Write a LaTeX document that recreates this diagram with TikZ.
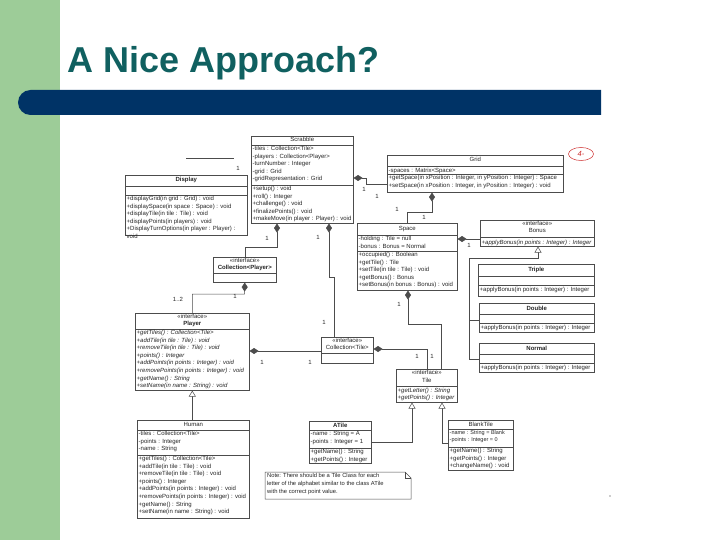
\documentclass[tikz,border=0pt]{standalone}
\usepackage{fontspec}
\setmainfont{Liberation Sans}
\usepackage{xcolor}
\usetikzlibrary{arrows.meta,positioning}
\definecolor{SlideGreen}{RGB}{157,204,152}
\definecolor{TitleTeal}{RGB}{16,96,96}
\definecolor{BarBlue}{RGB}{0,51,102}
\definecolor{InkRed}{RGB}{205,45,45}

\tikzset{
	cls/.style={draw=black!70, line width=0.6pt, fill=white, inner sep=0pt, anchor=north west},
	sep/.style={draw=black!70, line width=0.5pt},
	ttl/.style={anchor=north, inner sep=0pt, align=center, text=black!85,
		font=\fontsize{6}{7.6}\selectfont, execute at begin node=\strut},
	mem/.style={anchor=north west, inner sep=0pt, align=left, text=black!85,
		font=\fontsize{6}{7.6}\selectfont, execute at begin node=\strut},
	mult/.style={inner sep=0pt, text=black!85, font=\fontsize{6}{6}\selectfont},
	link/.style={draw=black!70, line width=0.5pt},
	comp/.style={link, {Diamond[length=9pt, width=6pt]}-},
	gen/.style={link, {Triangle[open, length=6pt, width=7pt, fill=white]}-}
}

\begin{document}
\begin{tikzpicture}[x=1pt, y=-1pt]
	\useasboundingbox (0,0) rectangle (720,540);
	% slide frame
	\fill[SlideGreen] (0,0) rectangle (60,540);
	\fill[BarBlue, rounded corners=12.5pt] (601,90) -- (18,90) -- (18,115) -- (601,115);
	\node[anchor=base west, inner sep=0pt, text=TitleTeal,
		font=\fontsize{36}{40}\selectfont\bfseries] (title) at (67,73) {A Nice Approach?};

	% classes
	\node[cls, minimum width=102pt, minimum height=87pt] (scrabble) at (251,136) {};
	\draw[sep] (scrabble.west |- 0,145) -- (scrabble.east |- 0,145);
	\draw[sep] (scrabble.west |- 0,185) -- (scrabble.east |- 0,185);
	\node[ttl] at (scrabble.north) {Scrabble};
	\node[mem] at (252.5,146) {-tiles : Collection<Tile>\\-players : Collection<Player>\\-turnNumber : Integer\\-grid : Grid\\-gridRepresentation : Grid};
	\node[mem] at (252.5,186) {+setup() : void\\+roll() : Integer\\+challenge() : void\\+finalizePoints() : void\\+makeMove(in player : Player) : void};

	\node[cls, minimum width=122pt, minimum height=60pt] (display) at (125,175) {};
	\draw[sep] (display.west |- 0,186) -- (display.east |- 0,186);
	\draw[sep] (display.west |- 0,195) -- (display.east |- 0,195);
	\node[ttl, font=\fontsize{6}{7.6}\selectfont\bfseries] at ([yshift=-1pt]display.north) {Display};
	\node[mem] at (126.5,196) {+displayGrid(in grid : Grid) : void\\+displaySpace(in space : Space) : void\\+displayTile(in tile : Tile) : void\\+displayPoints(in players) : void\\+DisplayTurnOptions(in player : Player) :\\void};

	\node[cls, minimum width=176pt, minimum height=37pt] (grid) at (387,155) {};
	\draw[sep] (grid.west |- 0,166) -- (grid.east |- 0,166);
	\draw[sep] (grid.west |- 0,174.5) -- (grid.east |- 0,174.5);
	\node[ttl] at ([yshift=-1pt]grid.north) {Grid};
	\node[mem] at (388.5,167) {-spaces : Matrix<Space>};
	\node[mem] at (388.5,175) {+getSpace(in xPosition : Integer, in yPosition : Integer) : Space\\+setSpace(in xPosition : Integer, in yPosition : Integer) : void};

	\node[cls, minimum width=100pt, minimum height=67pt] (space) at (357,223) {};
	\draw[sep] (space.west |- 0,235) -- (space.east |- 0,235);
	\draw[sep] (space.west |- 0,251) -- (space.east |- 0,251);
	\node[ttl] at ([yshift=-2pt]space.north) {Space};
	\node[mem] at (358.5,236) {-holding : Tile = null\\-bonus : Bonus = Normal};
	\node[mem] at (358.5,252) {+occupied() : Boolean\\+getTile() : Tile\\+setTile(in tile : Tile) : void\\+getBonus() : Bonus\\+setBonus(in bonus : Bonus) : void};

	\node[cls, minimum width=114pt, minimum height=26pt] (bonus) at (480,220) {};
	\draw[sep] (bonus.west |- 0,237.5) -- (bonus.east |- 0,237.5);
	\node[ttl] at ([yshift=-0.5pt]bonus.north) {«interface»\\Bonus};
	\node[mem, font=\fontsize{6}{7.6}\selectfont\itshape] at (481.5,238.5) {+applyBonus(in points : Integer) : Integer};

	\node[cls, minimum width=116pt, minimum height=32pt] (triple) at (478,264) {};
	\draw[sep] (triple.west |- 0,276) -- (triple.east |- 0,276);
	\draw[sep] (triple.west |- 0,285) -- (triple.east |- 0,285);
	\node[ttl, font=\fontsize{6}{7.6}\selectfont\bfseries] at ([yshift=-2pt]triple.north) {Triple};
	\node[mem] at (479.5,286) {+applyBonus(in points : Integer) : Integer};

	\node[cls, minimum width=115pt, minimum height=29pt] (double) at (479,303) {};
	\draw[sep] (double.west |- 0,314) -- (double.east |- 0,314);
	\draw[sep] (double.west |- 0,323) -- (double.east |- 0,323);
	\node[ttl, font=\fontsize{6}{7.6}\selectfont\bfseries] at ([yshift=-2pt]double.north) {Double};
	\node[mem] at (480.5,324) {+applyBonus(in points : Integer) : Integer};

	\node[cls, minimum width=115pt, minimum height=29pt] (normal) at (479,343) {};
	\draw[sep] (normal.west |- 0,354) -- (normal.east |- 0,354);
	\draw[sep] (normal.west |- 0,363) -- (normal.east |- 0,363);
	\node[ttl, font=\fontsize{6}{7.6}\selectfont\bfseries] at ([yshift=-2pt]normal.north) {Normal};
	\node[mem] at (480.5,364) {+applyBonus(in points : Integer) : Integer};

	\node[cls, minimum width=63pt, minimum height=25pt] (colP) at (213,257) {};
	\draw[sep] (colP.west |- 0,273) -- (colP.east |- 0,273);
	\node[ttl, font=\fontsize{6}{7.6}\selectfont\bfseries] at ([yshift=-0.5pt]colP.north) {\mdseries«interface»\\Collection<Player>};

	\node[cls, minimum width=114pt, minimum height=77pt] (player) at (135,313) {};
	\draw[sep] (player.west |- 0,329) -- (player.east |- 0,329);
	\node[ttl, font=\fontsize{6}{7.6}\selectfont\bfseries] at ([yshift=-0.5pt]player.north) {\mdseries«interface»\\Player};
	\node[mem, font=\fontsize{6}{7.6}\selectfont\itshape] at (136.5,330) {+getTiles() : Collection<Tile>\\+addTile(in tile : Tile) : void\\+removeTile(in tile : Tile) : void\\+points() : Integer\\+addPoints(in points : Integer) : void\\+removePoints(in points : Integer) : void\\+getName() : String\\+setName(in name : String) : void};

	\node[cls, minimum width=52pt, minimum height=26pt] (colT) at (321,337) {};
	\draw[sep] (colT.west |- 0,353) -- (colT.east |- 0,353);
	\node[ttl] at ([yshift=-0.5pt]colT.north) {«interface»\\Collection<Tile>};

	\node[cls, minimum width=61pt, minimum height=33pt] (tile) at (396,369) {};
	\draw[sep] (tile.west |- 0,386.5) -- (tile.east |- 0,386.5);
	\node[ttl] at ([yshift=-1pt]tile.north) {«interface»\\Tile};
	\node[mem, font=\fontsize{6}{7.6}\selectfont\itshape] at (397.5,387.5) {+getLetter() : String\\+getPoints() : Integer};

	\node[cls, minimum width=62pt, minimum height=42pt] (atile) at (309,421) {};
	\draw[sep] (atile.west |- 0,430) -- (atile.east |- 0,430);
	\draw[sep] (atile.west |- 0,448) -- (atile.east |- 0,448);
	\node[ttl, font=\fontsize{6}{7.6}\selectfont\bfseries] at ([yshift=-0.5pt]atile.north) {ATile};
	\node[mem] at (310.5,431) {-name : String = A\\-points : Integer = 1};
	\node[mem] at (310.5,449) {+getName() : String\\+getPoints() : Integer};

	\node[cls, minimum width=65pt, minimum height=50pt] (blank) at (448,420) {};
	\draw[sep] (blank.west |- 0,429) -- (blank.east |- 0,429);
	\draw[sep] (blank.west |- 0,447) -- (blank.east |- 0,447);
	\node[ttl] at ([yshift=-0.5pt]blank.north) {BlankTile};
	\node[mem, font=\fontsize{5.5}{7.6}\selectfont] at (449.5,430) {-name : String = Blank\\-points : Integer = 0};
	\node[mem] at (449.5,448) {+getName() : String\\+getPoints() : Integer\\+changeName() : void};

	\node[cls, minimum width=112pt, minimum height=98pt] (human) at (137,420) {};
	\draw[sep] (human.west |- 0,430) -- (human.east |- 0,430);
	\draw[sep] (human.west |- 0,455) -- (human.east |- 0,455);
	\node[ttl] at ([yshift=-0.5pt]human.north) {Human};
	\node[mem] at (138.5,431) {-tiles : Collection<Tile>\\-points : Integer\\-name : String};
	\node[mem] at (138.5,456) {+getTiles() : Collection<Tile>\\+addTile(in tile : Tile) : void\\+removeTile(in tile : Tile) : void\\+points() : Integer\\+addPoints(in points : Integer) : void\\+removePoints(in points : Integer) : void\\+getName() : String\\+setName(in name : String) : void};

	% note
	\draw[link, fill=white] (265,472) -- (405,472) -- (411,478) -- (411,499) -- (265,499) -- cycle;
	\draw[link] (405,472) -- (405,478) -- (411,478);
	\node[mem, font=\fontsize{5.8}{7.6}\selectfont] (note) at (267,473.5) {Note: There should be a Tile Class for each\\letter of the alphabet similar to the class ATile\\with the correct point value.};

	% connectors
	\coordinate (dispLink) at (186,158);
	\coordinate (dispEnd) at (234,158);
	\draw[link] (dispLink) -- (dispEnd);
	\node[mult] at (238,168) {1};

	\draw[comp] (scrabble.east |- 0,178) -- (366,178) |- (grid.west |- 0,184);
	\node[mult] at (364,189) {1};
	\node[mult] at (377,196) {1};

	\draw[comp] (grid.south -| 432,0) -- (432,212) -| (space.north);
	\node[mult] at (424,217) {1};
	\node[mult] at (397,209) {1};

	\draw[comp] (space.east |- 0,239) -- (bonus.west |- 0,239);
	\node[mult] at (469,245) {1};

	\draw[gen] (bonus.south -| 538,0) -- (538,258) -| (469,359) -- (normal.west |- 0,359);
	\draw[link] (469,320) -- (double.west |- 0,320);

	\draw[comp] (scrabble.south -| 277,0) -- (277,247) -| (colP.north);
	\node[mult] at (267,238) {1};

	\draw[comp] (scrabble.south -| 329,0) -- (329,277) -- (334,277) -- (colT.north -| 334,0);
	\node[mult] at (318,237) {1};
	\node[mult] at (324,322) {1};

	\draw[comp] (colP.south) -- (244.5,294) -| (player.north);
	\node[mult] at (178,299) {1..2};
	\node[mult] at (235,296) {1};

	\draw[comp] (player.east |- 0,351) -- (colT.west |- 0,351);
	\node[mult] at (262,362) {1};
	\node[mult] at (310,362) {1};

	\draw[gen] (player.south) -- (player.south |- human.north);

	\draw[comp] (space.south -| 408,0) -- (408,324) -| (tile.north -| 441,0);
	\node[mult] at (399,304) {1};
	\node[mult] at (432,356) {1};

	\draw[comp] (colT.east |- 0,349) -- (427,349) -- (tile.north -| 427,0);
	\node[mult] at (417,356) {1};

	\draw[gen] (tile.south -| 412,0) -- (412,442) -- (atile.east |- 0,442);
	\draw[gen] (tile.south -| 442,0) -- (442,443) -- (blank.west |- 0,443);

	% hand mark
	\draw[InkRed, line width=0.5pt] (581,154) ellipse [x radius=12.5pt, y radius=6.5pt];
	\node[text=InkRed, inner sep=0pt, font=\fontsize{7.5}{7.5}\selectfont\itshape] (grade) at (581,154) {4-};
	\fill[black!40] (610,496) circle [radius=0.8pt];
\end{tikzpicture}
\end{document}
